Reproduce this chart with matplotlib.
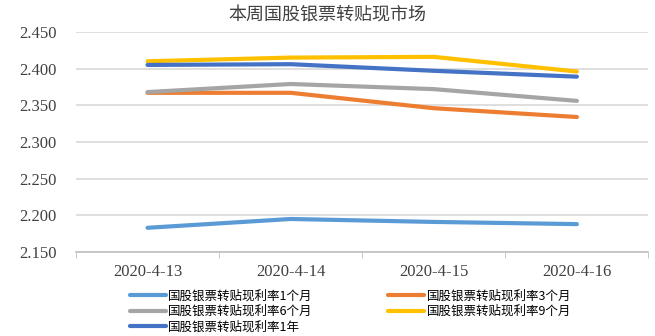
import matplotlib.pyplot as plt
from matplotlib.ticker import FixedLocator, FormatStrFormatter

dates = ['2020-4-13', '2020-4-14', '2020-4-15', '2020-4-16']
rate_1m = [2.183, 2.195, 2.191, 2.188]
rate_3m = [2.367, 2.367, 2.346, 2.334]
rate_6m = [2.368, 2.379, 2.372, 2.356]
rate_9m = [2.410, 2.415, 2.416, 2.396]
rate_1y = [2.405, 2.406, 2.397, 2.389]

series = [
    ('国股银票转贴现利率1个月', rate_1m, '#5B9BD5'),
    ('国股银票转贴现利率3个月', rate_3m, '#ED7D31'),
    ('国股银票转贴现利率6个月', rate_6m, '#A5A5A5'),
    ('国股银票转贴现利率9个月', rate_9m, '#FFC000'),
    ('国股银票转贴现利率1年', rate_1y, '#4472C4'),
]

plt.rcParams['font.family'] = ['Noto Sans CJK SC', 'DejaVu Sans']

fig = plt.figure(figsize=(6.55, 3.36), dpi=100)
ax = fig.add_axes([0.116, 0.25, 0.874, 0.655])

x = list(range(len(dates)))
lines = {}
for name, vals, color in series:
    lines[name], = ax.plot(x, vals, color=color, linewidth=3, label=name,
                           solid_capstyle='round')

ax.set_xlim(-0.5, len(dates) - 0.5)
ax.set_ylim(2.15, 2.45)
ax.set_yticks([2.15, 2.20, 2.25, 2.30, 2.35, 2.40, 2.45])
ax.yaxis.set_major_formatter(FormatStrFormatter('%.3f'))
ax.set_xticks(x)
ax.set_xticklabels(dates)
ax.xaxis.set_minor_locator(FixedLocator([i - 0.5 for i in range(len(dates) + 1)]))
ax.tick_params(axis='x', which='major', length=0, pad=9)
ax.tick_params(axis='x', which='minor', length=4, color='#BFBFBF')
ax.tick_params(axis='y', length=0, pad=14)
for lab in ax.get_xticklabels() + ax.get_yticklabels():
    lab.set_fontfamily('Liberation Serif')
    lab.set_fontsize(12)
    lab.set_color('#404040')

ax.grid(axis='y', color='#D9D9D9', linewidth=1.2)
ax.set_axisbelow(True)
for s in ['top', 'right', 'left']:
    ax.spines[s].set_visible(False)
ax.spines['bottom'].set_color('#BFBFBF')
ax.spines['bottom'].set_linewidth(1.2)

fig.text(0.5, 0.955, '本周国股银票转贴现市场', ha='center', va='center',
         fontsize=13, color='#404040')

# legend order so that columns read row-wise like the reference
order = [series[i][0] for i in (0, 2, 4, 1, 3)]
ax.legend([lines[n] for n in order], order, loc='upper left',
          bbox_to_anchor=(0.085, -0.148), ncol=2, frameon=False,
          fontsize=9, handlelength=2.9, columnspacing=6.0, labelspacing=0.2,
          handletextpad=0.2, borderaxespad=0)

plt.savefig('out.png', dpi=100)
